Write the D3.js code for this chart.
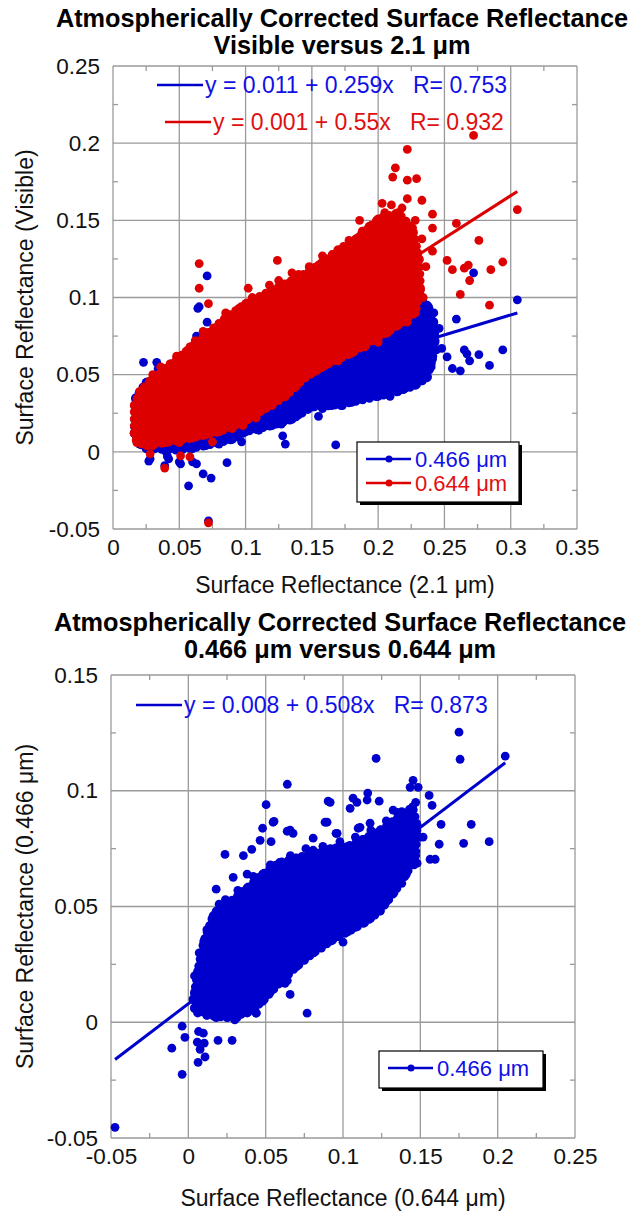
<!DOCTYPE html>
<html>
<head>
<meta charset="utf-8">
<script src="https://cdn.jsdelivr.net/npm/d3@7"></script>
<style>
  html, body { margin: 0; padding: 0; background: #fff; }
  svg text { white-space: pre; }
</style>
</head>
<body>
<svg id="chart" width="640" height="1211"></svg>
<script>
// ---------------- DATA ----------------
// Panel 1: visible vs 2.1 um
const p1XTicks = [0, 0.05, 0.1, 0.15, 0.2, 0.25, 0.3, 0.35];
const p1YTicks = [-0.05, 0, 0.05, 0.1, 0.15, 0.2, 0.25];
const p1Fits = [
  { label: "y = 0.011 + 0.259x   R= 0.753", a: 0.011, b: 0.259, x0: 0.017, x1: 0.305, series: "blue" },
  { label: "y = 0.001 + 0.55x   R= 0.932", a: 0.001, b: 0.55, x0: 0.017, x1: 0.305, series: "red" }
];
const p1Legend = ["0.466 \u03bcm", "0.644 \u03bcm"];
// dense cloud outline of 0.466 um (blue)
const p1BlueCloud = [
  [0.016,0.012],[0.02,0.005],[0.03,0.002],[0.05,0.001],[0.07,0.004],[0.09,0.008],[0.1,0.013],
  [0.12,0.017],[0.135,0.021],[0.15,0.029],[0.165,0.03],[0.18,0.032],[0.2,0.036],[0.215,0.039],
  [0.228,0.043],[0.237,0.048],[0.241,0.06],[0.243,0.072],[0.242,0.084],[0.238,0.094],[0.228,0.1],
  [0.215,0.101],[0.2,0.098],[0.15,0.088],[0.1,0.07],[0.07,0.058],[0.04,0.05],[0.025,0.045],[0.017,0.035]
];
// scattered 0.466 um points
const p1BlueX = [0.071,0.065,0.064,0.071,0.063,0.023,0.033,0.034,0.093,0.073,0.085,0.081,0.053,0.044,
  0.027,0.042,0.051,0.06,0.068,0.074,0.057,0.072,0.086,0.097,0.13,0.128,0.155,0.168,0.028,0.041,0.05,0.063,0.039,
  0.305,0.272,0.259,0.248,0.252,0.256,0.262,0.265,0.267,0.269,0.276,0.284,0.294,0.241,0.243,0.224,0.237,0.239,0.146,0.173,0.199,0.209,
  0.025,0.04,0.06,0.08,0.095,0.11,0.127,0.14,0.158,0.172,0.188,0.205,0.22,0.232,0.24,0.244,0.246,0.242,0.233];
const p1BlueY = [0.114,0.094,0.093,0.084,0.075,0.058,0.058,0.054,0.088,0.075,0.080,0.069,0.062,0.057,
  -0.006,-0.0045,-0.0078,-0.0065,-0.0143,-0.017,-0.022,-0.0447,-0.007,0.0065,0.005,0.0104,0.023,0.0045,-0.0045,-0.003,-0.0065,-0.0078,-0.009,
  0.0985,0.116,0.086,0.067,0.0615,0.054,0.0525,0.066,0.0635,0.059,0.063,0.056,0.066,0.084,0.078,0.101,0.095,0.059,0.032,0.03,0.036,0.036,
  0.002,0.0,0.002,0.005,0.011,0.014,0.018,0.024,0.028,0.03,0.034,0.037,0.041,0.046,0.055,0.066,0.08,0.09,0.098];
// dense cloud outline of 0.644 um (red)
const p1RedCloud = [
  [0.016,0.012],[0.018,0.006],[0.025,0.004],[0.04,0.006],[0.06,0.009],[0.08,0.013],[0.1,0.02],
  [0.115,0.028],[0.13,0.036],[0.145,0.048],[0.16,0.056],[0.18,0.064],[0.2,0.074],[0.215,0.082],
  [0.228,0.09],[0.232,0.105],[0.231,0.125],[0.226,0.145],[0.215,0.155],[0.2,0.151],[0.185,0.139],
  [0.17,0.131],[0.155,0.121],[0.14,0.113],[0.12,0.105],[0.1,0.096],[0.085,0.087],[0.07,0.076],
  [0.055,0.065],[0.04,0.054],[0.028,0.046],[0.02,0.039],[0.016,0.03]
];
// scattered 0.644 um points
const p1RedX = [0.065,0.065,0.072,0.102,0.124,0.058,0.078,0.092,0.11,0.113,0.132,0.14,0.151,0.164,0.171,0.189,0.199,0.043,0.032,0.02,
  0.272,0.222,0.213,0.211,0.222,0.229,0.222,0.233,0.203,0.305,0.241,0.259,0.186,0.188,0.241,0.276,0.174,0.241,0.252,0.294,0.256,0.265,0.268,0.269,0.285,0.262,0.284,
  0.181,0.2,0.156,0.161,0.146,0.143,0.128,0.121,0.098,
  0.028,0.039,0.051,0.058,0.072,0.075,
  0.03,0.036,0.048,0.062,0.068,0.085,0.095,0.105,0.118,0.125,0.135,0.148,0.158,0.178,0.193,0.205,0.21,0.218,0.228,0.233,0.236,0.234,0.22,
  0.03,0.05,0.07,0.09,0.108,0.12,0.138,0.152,0.17,0.19,0.207,0.222];
const p1RedY = [0.122,0.106,0.096,0.106,0.124,0.068,0.080,0.082,0.1,0.094,0.109,0.115,0.117,0.119,0.126,0.135,0.141,0.057,0.047,0.034,
  0.205,0.196,0.184,0.178,0.176,0.177,0.164,0.163,0.161,0.157,0.154,0.148,0.150,0.143,0.145,0.137,0.132,0.130,0.124,0.123,0.118,0.119,0.121,0.111,0.118,0.102,0.095,
  0.065,0.071,0.054,0.058,0.06,0.052,0.036,0.034,0.017,
  -0.0013,-0.0105,-0.0026,-0.0033,-0.046,0.0065,
  0.05,0.055,0.062,0.072,0.078,0.09,0.093,0.1,0.108,0.111,0.116,0.12,0.127,0.137,0.146,0.155,0.16,0.158,0.15,0.138,0.12,0.1,0.087,
  0.004,0.006,0.011,0.015,0.022,0.03,0.042,0.052,0.059,0.068,0.077,0.084];

// Panel 2: 0.466 um vs 0.644 um
const p2XTicks = [-0.05, 0, 0.05, 0.1, 0.15, 0.2, 0.25];
const p2YTicks = [-0.05, 0, 0.05, 0.1, 0.15];
const p2Fits = [
  { label: "y = 0.008 + 0.508x   R= 0.873", a: 0.008, b: 0.508, x0: -0.0474, x1: 0.2049, series: "blue" }
];
const p2Legend = ["0.466 \u03bcm"];
const p2Cloud = [
  [0.004,0.006],[0.012,0.003],[0.025,0.002],[0.038,0.004],[0.048,0.009],[0.059,0.017],[0.07,0.024],
  [0.081,0.03],[0.092,0.035],[0.103,0.039],[0.114,0.043],[0.124,0.048],[0.133,0.056],[0.141,0.064],
  [0.147,0.072],[0.148,0.085],[0.145,0.093],[0.135,0.088],[0.124,0.083],[0.113,0.079],[0.103,0.076],
  [0.092,0.075],[0.081,0.073],[0.07,0.071],[0.059,0.069],[0.048,0.064],[0.038,0.058],[0.027,0.052],
  [0.016,0.046],[0.01,0.035],[0.006,0.022],[0.004,0.013]
];
const p2X = [0.064,0.0503,0.0554,0.048,0.0464,0.0535,0.041,0.0356,0.0237,0.018,0.0199,0.0904,0.0884,0.0658,0.0677,0.029,0.0334,0.038,
  0.1214,0.175,0.1757,0.2049,0.1453,0.1486,0.1434,0.1557,0.116,0.0917,0.1046,0.109,0.1234,0.1576,0.0897,0.135,0.1634,0.1829,0.178,0.1945,
  0.1622,0.1563,0.1596,0.1518,0.0955,0.1175,0.1098,0.1298,0.1479,0.1414,
  -0.004,-0.0022,-0.0107,-0.004,-0.0474,0.0066,0.0097,0.0058,0.0103,0.0076,0.0063,0.0108,0.0192,0.0283,0.0768,0.0438,0.0625,0.0658,0.0302,0.038,0.0134,0.1,
  0.0548,0.0639,0.064,0.044,0.0315,0.1434,0.1195,0.113,0.0832,0.1324,0.1156,0.1065,0.111,0.0962,0.0807,0.0807,
  0.012,0.018,0.024,0.032,0.042,0.053,0.066,0.076,0.087,0.098,0.108,0.118,0.128,0.138,0.147,0.15,0.146,0.138,0.128,0.118,0.108,0.097,0.086,0.075,0.064,0.053,0.043,0.03,0.018,0.006,0.003,0.004,0.007];
const p2Y = [0.1028,0.094,0.0868,0.0838,0.0786,0.078,0.0747,0.072,0.0725,0.0575,0.051,0.0955,0.0864,0.083,0.0816,0.0626,0.0557,0.064,
  0.114,0.1253,0.1136,0.115,0.1045,0.1015,0.1015,0.098,0.099,0.095,0.0924,0.095,0.0955,0.0937,0.0864,0.0907,0.0855,0.0855,0.0773,0.078,
  0.0769,0.0704,0.0704,0.08,0.0816,0.086,0.0838,0.086,0.0687,0.0657,
  -0.0017,-0.0065,-0.0112,-0.0225,-0.0454,-0.004,-0.0047,-0.0086,-0.009,-0.0117,-0.0173,-0.015,-0.0078,-0.0078,0.0039,0.0039,0.0168,0.012,0.002,0.006,0.040,0.0346,
  0.0864,0.0825,0.018,0.004,0.002,0.073,0.048,0.046,0.033,0.0916,0.096,0.0968,0.0842,0.0816,0.0795,0.0743,
  0.04,0.048,0.053,0.057,0.063,0.068,0.072,0.075,0.076,0.078,0.08,0.083,0.087,0.091,0.095,0.08,0.068,0.06,0.052,0.045,0.041,0.037,0.032,0.027,0.021,0.013,0.006,0.001,0.002,0.004,0.01,0.02,0.03];

// ---------------- STYLE ----------------
const FONT = "'Liberation Sans', Arial, Helvetica, sans-serif";
const COL = { blue: "#0000cc", red: "#dd0000" };
const TXT = { blue: "#1010e6", red: "#e01010" };
const R = 4.4;

const svg = d3.select("#chart");

function panel(cfg) {
  const x = d3.scaleLinear().domain(cfg.xDomain).range(cfg.xRange);
  const y = d3.scaleLinear().domain(cfg.yDomain).range(cfg.yRange);
  const g = svg.append("g");
  const [x0, x1] = cfg.xRange, [y1, y0] = cfg.yRange; // y0 top, y1 bottom

  // titles
  cfg.title.forEach((t, i) => {
    g.append("text").attr("x", (x0 + x1) / 2 - 3).attr("y", cfg.titleY + i * 27)
      .attr("text-anchor", "middle").attr("font-family", FONT).attr("font-weight", "bold")
      .attr("font-size", 25.3).attr("fill", "#000").text(t);
  });

  // grid
  const grid = g.append("g").attr("stroke", "#9a9a9a").attr("stroke-width", 1.3);
  cfg.xTicks.forEach(v => grid.append("line").attr("x1", x(v)).attr("x2", x(v)).attr("y1", y0).attr("y2", y1));
  cfg.yTicks.forEach(v => grid.append("line").attr("y1", y(v)).attr("y2", y(v)).attr("x1", x0).attr("x2", x1));
  // minor ticks (inward)
  const xm = d3.pairs(cfg.xTicks).map(([a, b]) => (a + b) / 2);
  const ym = d3.pairs(cfg.yTicks).map(([a, b]) => (a + b) / 2);
  xm.forEach(v => {
    grid.append("line").attr("x1", x(v)).attr("x2", x(v)).attr("y1", y0).attr("y2", y0 + 5);
    grid.append("line").attr("x1", x(v)).attr("x2", x(v)).attr("y1", y1).attr("y2", y1 - 5);
  });
  ym.forEach(v => {
    grid.append("line").attr("y1", y(v)).attr("y2", y(v)).attr("x1", x0).attr("x2", x0 + 5);
    grid.append("line").attr("y1", y(v)).attr("y2", y(v)).attr("x1", x1).attr("x2", x1 - 5);
  });

  // axes labels via d3 axes
  const fmt = d => d === 0 ? "0" : String(+d.toFixed(3));
  const ax = g.append("g").attr("transform", `translate(0,${y1})`)
    .call(d3.axisBottom(x).tickValues(cfg.xTicks).tickFormat(fmt).tickSize(0).tickPadding(10));
  const ay = g.append("g").attr("transform", `translate(${x0},0)`)
    .call(d3.axisLeft(y).tickValues(cfg.yTicks).tickFormat(fmt).tickSize(0).tickPadding(13));
  [ax, ay].forEach(a => {
    a.select(".domain").remove();
    a.selectAll("text").attr("font-family", FONT).attr("font-size", 22.5).attr("fill", "#111");
  });

  g.append("text").attr("x", (x0 + x1) / 2).attr("y", cfg.xTitleY).attr("text-anchor", "middle")
    .attr("font-family", FONT).attr("font-size", 23).attr("fill", "#111").text(cfg.xTitle);
  g.append("text").attr("transform", `translate(33,${(y0 + y1) / 2}) rotate(-90)`).attr("text-anchor", "middle")
    .attr("font-family", FONT).attr("font-size", 23).attr("fill", "#111").text(cfg.yTitle);

  // fit lines (behind points)
  cfg.fits.forEach(f => {
    g.append("line").attr("x1", x(f.x0)).attr("y1", y(f.a + f.b * f.x0))
      .attr("x2", x(f.x1)).attr("y2", y(f.a + f.b * f.x1))
      .attr("stroke", COL[f.series]).attr("stroke-width", 3);
  });

  // point series
  const line = d3.line().x(d => x(d[0])).y(d => y(d[1])).curve(d3.curveLinearClosed);
  cfg.series.forEach(s => {
    const c = COL[s.color];
    const sg = g.append("g");
    sg.append("path").attr("d", line(s.cloud)).attr("fill", c).attr("stroke", c)
      .attr("stroke-width", R).attr("stroke-linejoin", "round");
    // beaded outline: overlapping dots along the cloud edge
    sg.append("path").attr("d", line(s.cloud)).attr("fill", "none").attr("stroke", c)
      .attr("stroke-width", 2 * R).attr("stroke-linecap", "round").attr("stroke-dasharray", "0 7");
    sg.selectAll("circle.v").data(s.cloud).join("circle")
      .attr("cx", d => x(d[0])).attr("cy", d => y(d[1])).attr("r", R).attr("fill", c);
    sg.selectAll("circle.p").data(s.xs.map((v, i) => [v, s.ys[i]])).join("circle")
      .attr("cx", d => x(d[0])).attr("cy", d => y(d[1])).attr("r", R).attr("fill", c);
  });

  // equation labels
  cfg.fits.forEach((f, i) => {
    const p = cfg.eqPos[i];
    g.append("line").attr("x1", p[0]).attr("x2", p[0] + 46).attr("y1", p[1] - 8).attr("y2", p[1] - 8)
      .attr("stroke", COL[f.series]).attr("stroke-width", 2.5);
    g.append("text").attr("x", p[0] + 48).attr("y", p[1]).attr("font-family", FONT).attr("font-size", 23)
      .attr("fill", TXT[f.series]).text(f.label);
  });

  // legend
  const L = cfg.legend;
  g.append("rect").attr("x", L.x + 3).attr("y", L.y + 3).attr("width", L.w).attr("height", L.h).attr("fill", "#000");
  g.append("rect").attr("x", L.x).attr("y", L.y).attr("width", L.w).attr("height", L.h)
    .attr("fill", "#fff").attr("stroke", "#000").attr("stroke-width", 1.2);
  cfg.legendLabels.forEach((t, i) => {
    const col = cfg.series[i].color;
    const yy = L.y + 17 + i * 24;
    g.append("line").attr("x1", L.x + 9).attr("x2", L.x + 54).attr("y1", yy).attr("y2", yy)
      .attr("stroke", COL[col]).attr("stroke-width", 2.5);
    g.append("circle").attr("cx", L.x + 32).attr("cy", yy).attr("r", 3.5).attr("fill", COL[col]);
    g.append("text").attr("x", L.x + 58).attr("y", yy + 8).attr("font-family", FONT).attr("font-size", 22)
      .attr("fill", TXT[col]).text(t);
  });
}

panel({
  xDomain: [0, 0.35], xRange: [113, 577], yDomain: [-0.05, 0.25], yRange: [529, 66],
  xTicks: p1XTicks, yTicks: p1YTicks,
  title: ["Atmospherically Corrected Surface Reflectance", "Visible versus 2.1 \u03bcm"], titleY: 27,
  xTitle: "Surface Reflectance (2.1 \u03bcm)", xTitleY: 593,
  yTitle: "Surface Reflectance (Visible)",
  fits: p1Fits, eqPos: [[157, 93], [165, 130]],
  series: [
    { color: "blue", cloud: p1BlueCloud, xs: p1BlueX, ys: p1BlueY },
    { color: "red", cloud: p1RedCloud, xs: p1RedX, ys: p1RedY }
  ],
  legend: { x: 357, y: 442, w: 162, h: 60 }, legendLabels: p1Legend
});

panel({
  xDomain: [-0.05, 0.25], xRange: [111, 575], yDomain: [-0.05, 0.15], yRange: [1138, 675],
  xTicks: p2XTicks, yTicks: p2YTicks,
  title: ["Atmospherically Corrected Surface Reflectance", "0.466 \u03bcm versus 0.644 \u03bcm"], titleY: 631,
  xTitle: "Surface Reflectance (0.644 \u03bcm)", xTitleY: 1206,
  yTitle: "Surface Reflectance (0.466 \u03bcm)",
  fits: p2Fits, eqPos: [[136, 713]],
  series: [{ color: "blue", cloud: p2Cloud, xs: p2X, ys: p2Y }],
  legend: { x: 379, y: 1051, w: 164, h: 37 }, legendLabels: p2Legend
});
</script>
</body>
</html>
